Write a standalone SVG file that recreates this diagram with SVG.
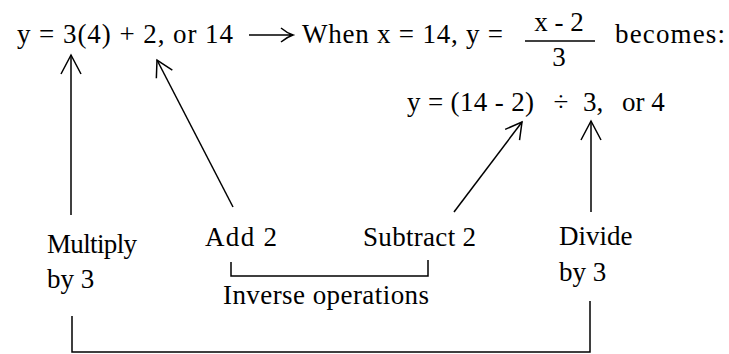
<svg xmlns="http://www.w3.org/2000/svg" width="729" height="354" viewBox="0 0 729 354">
<style>
text{font-family:"Liberation Serif","Times New Roman",serif;font-size:27px;fill:#000}
.ln{fill:none;stroke:#000;stroke-width:1.5}
.ar{fill:none;stroke:#000;stroke-width:1.5;marker-end:url(#hd)}
.ar2{fill:none;stroke:#000;stroke-width:1.5;marker-end:url(#hs)}
</style>
<defs>
<marker id="hd" markerUnits="userSpaceOnUse" markerWidth="30" markerHeight="30" viewBox="-25 -15 30 30" refX="0" refY="0" orient="auto" overflow="visible">
<path d="M-19,-10 L0,0 L-19,10" fill="none" stroke="#000" stroke-width="1.5"/>
</marker>
<marker id="hs" markerUnits="userSpaceOnUse" markerWidth="30" markerHeight="30" viewBox="-25 -15 30 30" refX="0" refY="0" orient="auto" overflow="visible">
<path d="M-16,-9 L0,0 L-16,9" fill="none" stroke="#000" stroke-width="1.5"/>
</marker>
</defs>
<rect width="729" height="354" fill="#fff"/>
<g id="equation1">
<text x="17" y="43" textLength="216" lengthAdjust="spacing">y = 3(4) + 2, or 14</text>
<path class="ln" d="M249,35 H292 M281,28 Q287,33 293,35 Q287,37 281,42"/>
<text x="302" y="43" textLength="201" lengthAdjust="spacing">When x = 14, y =</text>
<text x="559" y="31" text-anchor="middle">x - 2</text>
<line class="ln" x1="525" y1="41" x2="595" y2="41"/>
<text x="559" y="66" text-anchor="middle">3</text>
<text x="615" y="43" textLength="110" lengthAdjust="spacing">becomes:</text>
</g>
<g id="equation2">
<text x="407" y="111" textLength="127" lengthAdjust="spacing">y = (14 - 2)</text>
<text x="561" y="111" text-anchor="middle">÷</text>
<text x="583" y="111">3,</text>
<text x="622" y="111">or 4</text>
</g>
<g id="multiply">
<text x="47" y="253" textLength="90" lengthAdjust="spacing">Multiply</text>
<text x="47" y="288">by 3</text>
</g>
<g id="add">
<text x="205" y="246" textLength="72" lengthAdjust="spacing">Add 2</text>
</g>
<g id="subtract">
<text x="363" y="246" textLength="113" lengthAdjust="spacing">Subtract 2</text>
</g>
<g id="divide">
<text x="559" y="245">Divide</text>
<text x="559" y="281">by 3</text>
</g>
<g id="inverse">
<text x="223" y="304" textLength="206" lengthAdjust="spacing">Inverse operations</text>
</g>
<g id="connectors">
<line class="ar" x1="71" y1="215" x2="71" y2="55"/>
<line class="ar2" x1="233" y1="207" x2="157" y2="60"/>
<line class="ar2" x1="454" y1="212" x2="522" y2="122"/>
<line class="ar" x1="591" y1="212" x2="591" y2="121"/>
<path class="ln" d="M231,262 V276 H428 V260"/>
<path class="ln" d="M72,316 V352 H590 V301"/>
</g>
</svg>
